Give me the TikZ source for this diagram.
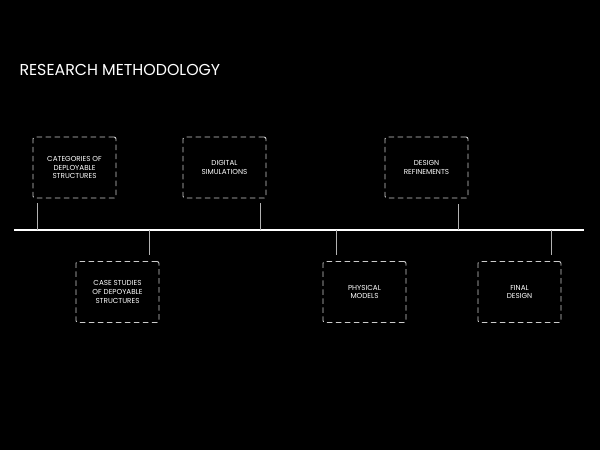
\documentclass[tikz,border=0pt]{standalone}
\usepackage{fontspec}
\setmainfont{Poppins}

\begin{document}
\begin{tikzpicture}[x=1pt,y=-1pt,font=\fontsize{7.2}{8.6}\selectfont,
  stage/.style={draw=black!20,line width=0.9pt,dash pattern=on 5.5pt off 3.5pt,
    rounded corners=2pt,minimum width=83pt,minimum height=61pt,
    align=center,text=white,inner sep=2pt},
  tick/.style={draw=black!30,line width=0.9pt}]
  \fill[black] (0,0) rectangle (600,450);
  \node[anchor=base west,font=\fontsize{15.8}{19}\selectfont,text=white] (title) at (16,75) {RESEARCH METHODOLOGY};
  % timeline
  \coordinate (axl) at (14,230);
  \coordinate (axr) at (584,230);
  \draw[white,line width=1.6pt] (axl) -- (axr);
  % stages above the line
  \node[stage] (cat) at (74.5,167.5) {CATEGORIES OF\\DEPLOYABLE\\STRUCTURES};
  \node[stage] (sim) at (224.5,167.5) {DIGITAL\\SIMULATIONS};
  \node[stage] (ref) at (426.5,167.5) {DESIGN\\REFINEMENTS};
  % stages below the line
  \node[stage] (case) at (117.5,292) {CASE STUDIES\\OF DEPOYABLE\\STRUCTURES};
  \node[stage] (phys) at (364.5,292) {PHYSICAL\\MODELS};
  \node[stage] (final) at (519.5,292) {FINAL\\DESIGN};
  % ticks
  \coordinate (t1) at (37,230);
  \coordinate (t2) at (149,230);
  \coordinate (t3) at (260,230);
  \coordinate (t4) at (336,230);
  \coordinate (t5) at (458,230);
  \coordinate (t6) at (551,230);
  \draw[tick,shorten >=5pt] (t1) -- (t1 |- cat.south);
  \draw[tick,shorten >=5pt] (t3) -- (t3 |- sim.south);
  \draw[tick,shorten >=6pt] (t5) -- (t5 |- ref.south);
  \draw[tick,shorten >=6pt] (t2) -- (t2 |- case.north);
  \draw[tick,shorten >=6pt] (t4) -- (t4 |- phys.north);
  \draw[tick,shorten >=6pt] (t6) -- (t6 |- final.north);
\end{tikzpicture}
\end{document}
